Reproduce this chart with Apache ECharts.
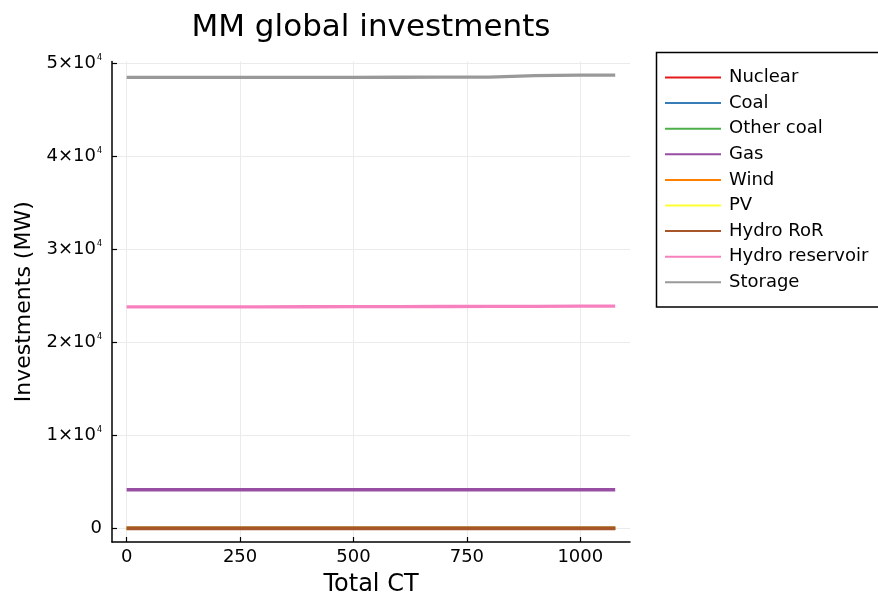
<!DOCTYPE html>
<html>
<head>
<meta charset="utf-8">
<title>MM global investments</title>
<script src="https://cdn.jsdelivr.net/npm/echarts@6/dist/echarts.min.js"></script>
<style>
  html, body { margin: 0; padding: 0; background: #fff; }
  #chart { width: 878px; height: 603px; }
</style>
</head>
<body>
<div id="chart"></div>
<script>
// Total CT sample points (x axis)
const totalCT = [0, 100, 200, 300, 400, 500, 600, 700, 800, 900, 1000, 1077];

// Investments per technology (MW)
const nuclear        = [0, 0, 0, 0, 0, 0, 0, 0, 0, 0, 0, 0];
const coal           = [0, 0, 0, 0, 0, 0, 0, 0, 0, 0, 0, 0];
const otherCoal      = [0, 0, 0, 0, 0, 0, 0, 0, 0, 0, 0, 0];
const gas            = [4150, 4150, 4150, 4150, 4150, 4150, 4150, 4150, 4150, 4150, 4150, 4150];
const wind           = [0, 0, 0, 0, 0, 0, 0, 0, 0, 0, 0, 0];
const pv             = [0, 0, 0, 0, 0, 0, 0, 0, 0, 0, 0, 0];
const hydroRoR       = [0, 0, 0, 0, 0, 0, 0, 0, 0, 0, 0, 0];
const hydroReservoir = [23800, 23800, 23805, 23810, 23815, 23820, 23830, 23840, 23850, 23860, 23870, 23880];
const storage        = [48450, 48450, 48450, 48450, 48455, 48460, 48470, 48475, 48480, 48640, 48690, 48700];

const seriesNames = ['Nuclear', 'Coal', 'Other coal', 'Gas', 'Wind', 'PV', 'Hydro RoR', 'Hydro reservoir', 'Storage'];
const seriesValues = [nuclear, coal, otherCoal, gas, wind, pv, hydroRoR, hydroReservoir, storage];
const seriesColors = ['#e41a1c', '#377eb8', '#4daf4a', '#984ea3', '#ff7f00', '#ffff33', '#a65628', '#f781bf', '#999999'];

// Tick positions
const xTicks = [0, 250, 500, 750, 1000];
const yTicks = [0, 10000, 20000, 30000, 40000, 50000];

const FONT = '"DejaVu Sans", sans-serif';

const chart = echarts.init(document.getElementById('chart'), null, { renderer: 'canvas' });

const series = seriesNames.map((name, i) => ({
  name: name,
  type: 'line',
  data: totalCT.map((x, j) => [x, seriesValues[i][j]]),
  showSymbol: false,
  symbol: 'none',
  smooth: false,
  color: seriesColors[i],
  // the last series drawn at zero sits on top of the others there; a touch wider hides their edges
  lineStyle: { width: name === 'Hydro RoR' ? 3.8 : 3.3, color: seriesColors[i], opacity: 1 },
  emphasis: { disabled: true },
  z: 2 + i
}));

chart.setOption({
  animation: false,
  backgroundColor: '#ffffff',
  title: {
    text: 'MM global investments',
    left: 371,
    top: 12,
    padding: 0,
    textAlign: 'center',
    textStyle: { fontFamily: FONT, fontSize: 31, fontWeight: 'normal', color: '#000' }
  },
  graphic: [{
    type: 'rect',
    z: 0,
    shape: { x: 656.5, y: 52.5, width: 240, height: 254.5 },
    style: { fill: '#ffffff', stroke: '#000000', lineWidth: 1.5 }
  }],
  legend: {
    data: seriesNames,
    orient: 'vertical',
    left: 665,
    top: 68.5,
    padding: 0,
    itemGap: 7.6,
    itemWidth: 56,
    itemHeight: 2,
    icon: 'rect',
    selectedMode: false,
    textStyle: { fontFamily: FONT, fontSize: 18, color: '#000', lineHeight: 18, padding: [0, 0, 0, 3] },
    z: 5
  },
  grid: {
    left: 112,
    right: 248,
    top: 61.5,
    bottom: 61,
    containLabel: false
  },
  xAxis: {
    type: 'value',
    min: -32.3,
    max: 1109.6,
    name: 'Total CT',
    nameLocation: 'middle',
    nameGap: 31,
    nameTextStyle: { fontFamily: FONT, fontSize: 24, color: '#000' },
    axisLine: { show: true, onZero: false, lineStyle: { color: '#000', width: 1.5 } },
    axisTick: { show: true, inside: true, length: 5, customValues: xTicks, lineStyle: { color: '#000', width: 1.2 } },
    axisLabel: {
      customValues: xTicks,
      fontFamily: FONT, fontSize: 18, color: '#000', margin: 6,
      formatter: function (v) { return String(v); }
    },
    splitLine: { show: true, lineStyle: { color: '#ebebeb', width: 1 } }
  },
  yAxis: {
    type: 'value',
    min: -1461,
    max: 50161,
    name: 'Investments (MW)',
    nameLocation: 'middle',
    nameGap: 75,
    nameRotate: 90,
    nameTextStyle: { fontFamily: FONT, fontSize: 22, color: '#000' },
    axisLine: { show: true, onZero: false, lineStyle: { color: '#000', width: 1.5 } },
    axisTick: { show: true, inside: true, length: 5, customValues: yTicks, lineStyle: { color: '#000', width: 1.2 } },
    axisLabel: {
      customValues: yTicks,
      fontFamily: FONT, fontSize: 18, color: '#000', margin: 10,
      formatter: function (v) {
        if (v === 0) return '0';
        return '{m|' + Math.round(v / 10000) + '×10}{s|4}';
      },
      rich: {
        m: { fontFamily: FONT, fontSize: 18, color: '#000', lineHeight: 18, padding: [12, 0, 0, 0], verticalAlign: 'bottom' },
        s: { fontFamily: FONT, fontSize: 8, color: '#000', lineHeight: 8, verticalAlign: 'top', padding: [0, 0, 0, 1] }
      }
    },
    splitLine: { show: true, lineStyle: { color: '#ebebeb', width: 1 } }
  },
  series: series
});
</script>
</body>
</html>
